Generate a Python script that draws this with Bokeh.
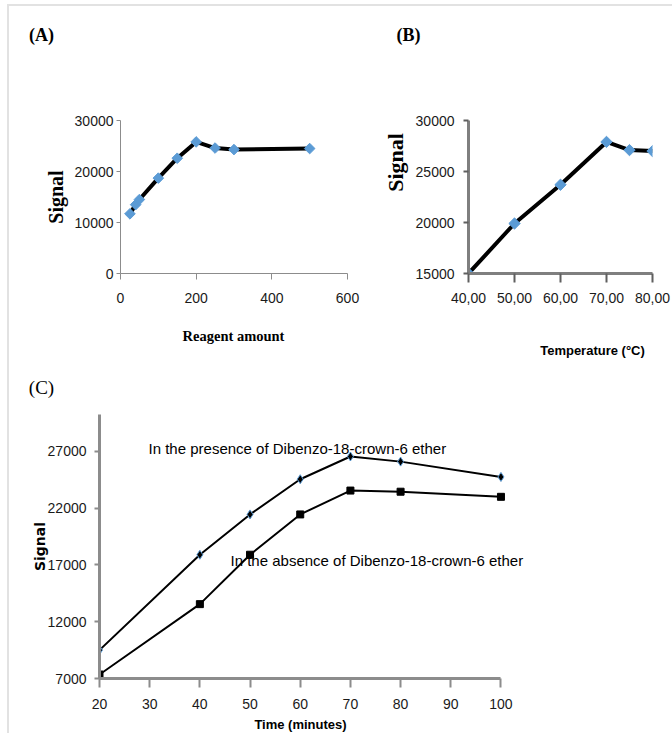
import numpy as np
from bokeh.plotting import figure
from bokeh.layouts import column, row
from bokeh.models import Range1d, FixedTicker, Label
from bokeh.embed import file_html
from bokeh.resources import INLINE

# ---------------- data ----------------
reagent_amount = [25, 40, 50, 100, 150, 200, 250, 300, 500]
reagent_signal = [11700, 13500, 14500, 18700, 22600, 25800, 24600, 24300, 24500]
a_xticks = [0, 200, 400, 600]
a_yticks = [0, 10000, 20000, 30000]

temperature = [40, 50, 60, 70, 75, 80]
temperature_signal = [15000, 19900, 23700, 27900, 27100, 27000]
b_xticks = [40, 50, 60, 70, 80]
b_xtick_labels = ["40,00", "50,00", "60,00", "70,00", "80,00"]
b_yticks = [15000, 20000, 25000, 30000]

time_min = [20, 40, 50, 60, 70, 80, 100]
signal_presence = [9500, 17900, 21450, 24550, 26550, 26100, 24750]
signal_absence = [7350, 13550, 17900, 21450, 23550, 23450, 23000]
c_xticks = [20, 30, 40, 50, 60, 70, 80, 90, 100]
c_yticks = [7000, 12000, 17000, 22000, 27000]

label_presence = "In the presence of Dibenzo-18-crown-6 ether"
label_absence = "In the absence of Dibenzo-18-crown-6 ether"

BLUE = "#5B9BD5"
SANS = "Liberation Sans"
SERIF = "Liberation Serif"


def base_fig(w, h, left, right, top, bottom, xr, yr):
    p = figure(width=w, height=h, output_backend="svg", toolbar_location=None,
               x_range=Range1d(*xr), y_range=Range1d(*yr),
               min_border_left=left, min_border_right=right,
               min_border_top=top, min_border_bottom=bottom)
    p.outline_line_color = None
    p.xgrid.visible = False
    p.ygrid.visible = False
    p.background_fill_color = None
    p.border_fill_color = None
    for ax in (p.xaxis[0], p.yaxis[0]):
        ax.minor_tick_line_color = None
        ax.major_tick_in = 0
        ax.major_label_text_font = SANS
        ax.major_label_text_color = "#1a1a1a"
    return p


def text_fig(w, h):
    p = figure(width=w, height=h, output_backend="svg", toolbar_location=None,
               x_axis_type=None, y_axis_type=None,
               x_range=Range1d(0, 1), y_range=Range1d(0, 1), min_border=0)
    p.outline_line_color = None
    p.background_fill_color = None
    p.border_fill_color = None
    return p


def add_label(p, text, x, y, font, size, style="normal", angle=0.0,
              align="center", baseline="middle", color="black"):
    p.add_layout(Label(x=x, y=y, x_units="screen", y_units="screen", text=text,
                       text_font=font, text_font_size=size, text_font_style=style,
                       angle=angle, text_align=align, text_baseline=baseline,
                       text_color=color))


# ---------------- top strip: panel letters ----------------
top = text_fig(672, 70)
add_label(top, "(A)", 41, 36, SERIF, "18px", "bold")
add_label(top, "(B)", 408, 36, SERIF, "18px", "bold")

# ---------------- Panel A ----------------
pa = base_fig(370, 248, 120, 23, 50, 43, (0, 600), (0, 30000))
pa.xaxis.ticker = FixedTicker(ticks=a_xticks)
pa.yaxis.ticker = FixedTicker(ticks=a_yticks)
for ax in (pa.xaxis[0], pa.yaxis[0]):
    ax.axis_line_color = "#8c8c8c"
    ax.axis_line_width = 1
    ax.major_tick_line_color = "#8c8c8c"
    ax.major_label_text_font_size = "14px"
pa.xaxis.major_tick_out = 6
pa.yaxis.major_tick_out = 4
pa.xaxis.major_label_standoff = 13
pa.yaxis.major_label_standoff = 3
pa.yaxis.axis_label = "Signal"
pa.yaxis.axis_label_text_font = SERIF
pa.yaxis.axis_label_text_font_style = "bold"
pa.yaxis.axis_label_text_font_size = "20px"
pa.yaxis.axis_label_text_color = "black"
pa.yaxis.axis_label_standoff = 5
pa.line(reagent_amount, reagent_signal, line_color="black", line_width=4)
pa.scatter(reagent_amount, reagent_signal, marker="square", angle=np.pi / 4,
           size=7.5, fill_color=BLUE, line_color=BLUE)

# ---------------- Panel B ----------------
sb = text_fig(40, 248)
add_label(sb, "Signal", 25, 156, SERIF, "22px", "bold", angle=np.pi / 2)

pb = base_fig(262, 248, 58, 20, 28, 45, (40, 80), (15000, 30000))
pb.xaxis.ticker = FixedTicker(ticks=b_xticks)
pb.xaxis.major_label_overrides = dict(zip(b_xticks, b_xtick_labels))
pb.yaxis.ticker = FixedTicker(ticks=b_yticks)
for ax in (pb.xaxis[0], pb.yaxis[0]):
    ax.axis_line_color = "#7f7f7f"
    ax.axis_line_width = 3
    ax.major_tick_line_color = "#5f5f5f"
    ax.major_tick_line_width = 2
    ax.major_label_text_font_size = "14px"
pb.xaxis.major_tick_out = 9
pb.yaxis.major_tick_out = 5
pb.xaxis.major_label_standoff = 10
pb.yaxis.major_label_standoff = 9
pb.line(temperature, temperature_signal, line_color="black", line_width=4)
pb.scatter(temperature, temperature_signal, marker="square", angle=np.pi / 4,
           size=8, fill_color=BLUE, line_color=BLUE)

# ---------------- middle strip: axis titles ----------------
mid = text_fig(672, 87)
add_label(mid, "Reagent amount", 233, 70, SERIF, "14.5px", "bold")
add_label(mid, "Temperature (°C)", 592, 55, SANS, "13px", "bold")
add_label(mid, "(C)", 41, 18, SERIF, "19px")

# ---------------- Panel C ----------------
pc = base_fig(672, 310, 99, 21, 9, 37, (20, 130), (7000, 30250))
pc.xaxis.ticker = FixedTicker(ticks=c_xticks)
pc.xaxis.bounds = (20, 100)
pc.yaxis.ticker = FixedTicker(ticks=c_yticks)
for ax in (pc.xaxis[0], pc.yaxis[0]):
    ax.axis_line_color = "#8c8c8c"
    ax.axis_line_width = 3
    ax.major_tick_line_color = "#8c8c8c"
    ax.major_tick_line_width = 2
    ax.major_label_text_font_size = "14px"
pc.xaxis.major_tick_out = 9
pc.yaxis.major_tick_out = 5
pc.xaxis.major_label_standoff = 11
pc.yaxis.major_label_standoff = 8
pc.yaxis.axis_label = "Signal"
pc.yaxis.axis_label_text_font = "DejaVu Sans"
pc.yaxis.axis_label_text_font_style = "bold"
pc.yaxis.axis_label_text_font_size = "14px"
pc.yaxis.axis_label_text_color = "black"
pc.yaxis.axis_label_standoff = -3
pc.line(time_min, signal_presence, line_color="black", line_width=2)
pc.scatter(time_min, signal_presence, marker="diamond", size=9,
           fill_color="black", line_color=BLUE, line_width=1)
pc.line(time_min, signal_absence, line_color="black", line_width=2)
pc.scatter(time_min, signal_absence, marker="square", size=7,
           fill_color="black", line_color="black")
add_label(pc, label_presence, 49, 230, SANS, "15px", align="left")
add_label(pc, label_absence, 131, 118, SANS, "15px", align="left")

# ---------------- bottom strip: x-axis title of C ----------------
bot = text_fig(672, 18)
add_label(bot, "Time (minutes)", 300, 9, SANS, "13px", "bold")

layout = column(row(top), row(pa, column(sb), pb, spacing=0), row(mid), pc,
                row(bot), spacing=0)
# faint page frame (left and top edges) seen in the reference
layout.styles = {
    "background-color": "white",
    "background-image": "linear-gradient(#e2e2e2, #e2e2e2), linear-gradient(#e2e2e2, #e2e2e2)",
    "background-size": "2px 100%, 100% 2px",
    "background-position": "7px 4px, 7px 4px",
    "background-repeat": "no-repeat",
}

with open("out.html", "w") as f:
    f.write(file_html(layout, INLINE))
